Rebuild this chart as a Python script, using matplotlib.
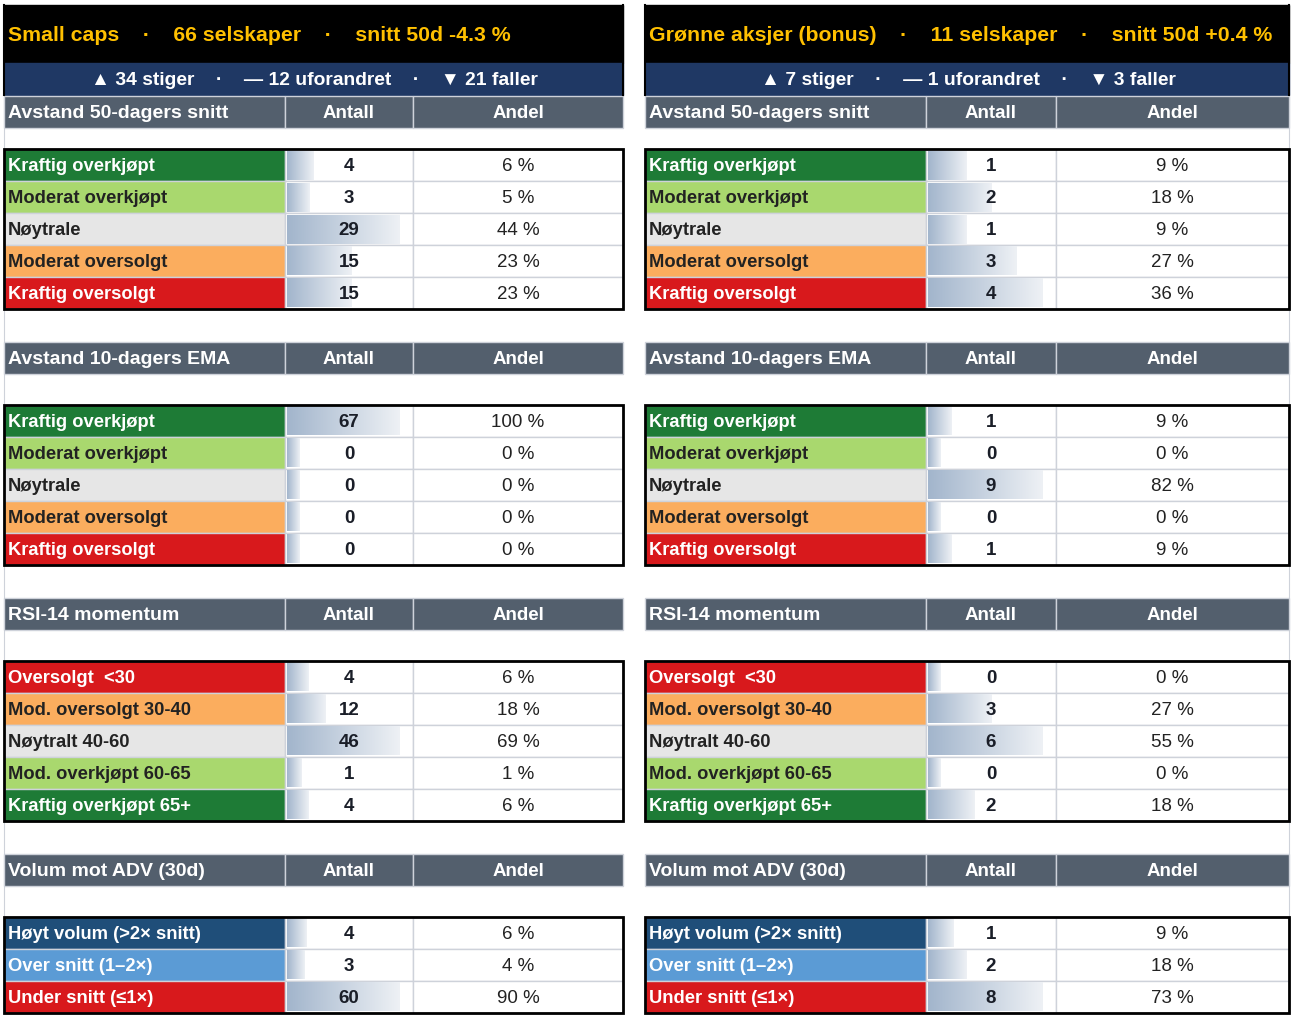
import numpy as np
import matplotlib
matplotlib.use("Agg")
import matplotlib.pyplot as plt
from matplotlib.patches import Rectangle
from matplotlib.colors import LinearSegmentedColormap

plt.rcParams['font.family'] = ['Liberation Sans', 'DejaVu Sans']

# Panel info
panel_names = ["Small caps", "Grønne aksjer (bonus)"]
panel_counts = [66, 11]
panel_avg50 = ["-4.3", "+0.4"]
panel_up = [34, 7]
panel_flat = [12, 1]
panel_down = [21, 3]

# Section titles and row labels
section_titles = ["Avstand 50-dagers snitt", "Avstand 10-dagers EMA", "RSI-14 momentum", "Volum mot ADV (30d)"]
labels_ma = ["Kraftig overkjøpt", "Moderat overkjøpt", "Nøytrale", "Moderat oversolgt", "Kraftig oversolgt"]
labels_rsi = ["Oversolgt  <30", "Mod. oversolgt 30-40", "Nøytralt 40-60", "Mod. overkjøpt 60-65", "Kraftig overkjøpt 65+"]
labels_vol = ["Høyt volum (>2× snitt)", "Over snitt (1–2×)", "Under snitt (≤1×)"]

# Counts and shares, Small caps
small_50 = [4, 3, 29, 15, 15]
small_50_pct = [6, 5, 44, 23, 23]
small_ema = [67, 0, 0, 0, 0]
small_ema_pct = [100, 0, 0, 0, 0]
small_rsi = [4, 12, 46, 1, 4]
small_rsi_pct = [6, 18, 69, 1, 6]
small_vol = [4, 3, 60]
small_vol_pct = [6, 4, 90]

# Counts and shares, Grønne aksjer
green_50 = [1, 2, 1, 3, 4]
green_50_pct = [9, 18, 9, 27, 36]
green_ema = [1, 0, 9, 0, 1]
green_ema_pct = [9, 0, 82, 0, 9]
green_rsi = [0, 3, 6, 0, 2]
green_rsi_pct = [0, 27, 55, 0, 18]
green_vol = [1, 2, 8]
green_vol_pct = [9, 18, 73]

# Colours
DKGREEN = "#1E7B36"
LTGREEN = "#A9D86E"
GRAY = "#E6E6E6"
ORANGE = "#FBAD5E"
RED = "#D8191C"
DKBLUE = "#1F4E79"
LTBLUE = "#5B9BD5"
GOLD = "#FFC000"
NAVY = "#1F3864"
HEADER = "#535F6D"
GRID = "#CED2DA"

colors_ma = [DKGREEN, LTGREEN, GRAY, ORANGE, RED]
colors_rsi = [RED, ORANGE, GRAY, LTGREEN, DKGREEN]
colors_vol = [DKBLUE, LTBLUE, RED]
dark_fills = [DKGREEN, RED, DKBLUE, LTBLUE]

bar_cmap = LinearSegmentedColormap.from_list("databar", ["#A2B5CC", "#EEF1F5"])

# Layout (pixels)
W, H = 1297, 1018
panels_x = [(4, 285, 413, 623), (645, 926, 1056, 1289)]
header_tops = [96, 342, 598, 854]
data_tops = [149, 405, 661, 917]
ROW = 32
DY = 1.5  # small baseline nudge so text sits like the Excel render

fig = plt.figure(figsize=(W / 100, H / 100), dpi=100)
ax = fig.add_axes([0, 0, 1, 1])
ax.set_xlim(0, W)
ax.set_ylim(H, 0)
ax.axis('off')

panel_data = [
    [(small_50, small_50_pct), (small_ema, small_ema_pct), (small_rsi, small_rsi_pct), (small_vol, small_vol_pct)],
    [(green_50, green_50_pct), (green_ema, green_ema_pct), (green_rsi, green_rsi_pct), (green_vol, green_vol_pct)],
]
section_labels = [labels_ma, labels_ma, labels_rsi, labels_vol]
section_colors = [colors_ma, colors_ma, colors_rsi, colors_vol]

gap = "    "

for p, (x0, c1, c2, x1) in enumerate(panels_x):
    # faint outer grid line
    if p == 0:
        ax.plot([x0, x0], [5, 1013], color=GRID, lw=0.8, zorder=0)
    else:
        ax.plot([x1, x1], [5, 1013], color=GRID, lw=0.8, zorder=0)

    # title band
    ax.add_patch(Rectangle((x0, 5), x1 - x0, 58, color="black", zorder=1))
    title = f"{panel_names[p]}{gap}·{gap}{panel_counts[p]} selskaper{gap}·{gap}snitt 50d {panel_avg50[p]} %"
    ax.text(x0 + 4, 34 + DY, title, color=GOLD, fontsize=15.3, fontweight='bold', ha='left', va='center', zorder=3)

    # movers band
    ax.add_patch(Rectangle((x0, 63), x1 - x0, 32, color=NAVY, zorder=1))
    ax.plot([x0, x0], [5, 95], color="black", lw=1.5, zorder=2)
    ax.plot([x1, x1], [5, 95], color="black", lw=1.5, zorder=2)
    movers = f"▲ {panel_up[p]} stiger{gap}·{gap}— {panel_flat[p]} uforandret{gap}·{gap}▼ {panel_down[p]} faller"
    ax.text((x0 + x1) / 2 + 1, 79 + DY, movers, color="white", fontsize=13.9, fontweight='bold',
            ha='center', va='center', zorder=3)

    for s in range(4):
        counts, pcts = panel_data[p][s]
        ht = header_tops[s]
        # header row
        for a, b in [(x0, c1), (c1, c2), (c2, x1)]:
            ax.add_patch(Rectangle((a, ht), b - a, ROW, facecolor=HEADER, edgecolor=GRID, lw=1, zorder=1))
        ax.text(x0 + 4, ht + ROW / 2 + DY, section_titles[s], color="white", fontsize=14, fontweight='bold',
                ha='left', va='center', zorder=3)
        ax.text((c1 + c2) / 2, ht + ROW / 2 + DY, "Antall", color="white", fontsize=13.5, fontweight='bold',
                ha='center', va='center', zorder=3)
        ax.text((c2 + x1) / 2, ht + ROW / 2 + DY, "Andel", color="white", fontsize=13.5, fontweight='bold',
                ha='center', va='center', zorder=3)

        # data rows
        dt = data_tops[s]
        vmax = max(counts)
        cw = c2 - c1 - 3
        for r, (lab, v, pc) in enumerate(zip(section_labels[s], counts, pcts)):
            y = dt + r * ROW
            fill = section_colors[s][r]
            ax.add_patch(Rectangle((x0, y), c1 - x0, ROW, facecolor=fill, edgecolor=GRID, lw=1, zorder=1))
            ax.add_patch(Rectangle((c1, y), c2 - c1, ROW, facecolor="white", edgecolor=GRID, lw=1, zorder=1))
            ax.add_patch(Rectangle((c2, y), x1 - c2, ROW, facecolor="white", edgecolor=GRID, lw=1, zorder=1))
            tcol = "white" if fill in dark_fills else "#222222"
            ax.text(x0 + 4, y + ROW / 2 + DY, lab, color=tcol, fontsize=13.2, fontweight='bold',
                    ha='left', va='center', zorder=3)
            # Excel style data bar
            bw = cw * (0.1 + 0.8 * v / vmax)
            ax.imshow(np.linspace(0, 1, 256).reshape(1, -1), cmap=bar_cmap, aspect='auto',
                      extent=(c1 + 2, c1 + 2 + bw, y + ROW - 1.5, y + 1.5), zorder=2, interpolation='bilinear')
            ax.text((c1 + c2) / 2, y + ROW / 2 + DY, str(v), color="#1A1E28", fontsize=13.5, fontweight='bold',
                    ha='center', va='center', zorder=3)
            ax.text((c2 + x1) / 2, y + ROW / 2 + DY, f"{pc} %", color="#222222", fontsize=13.5,
                    ha='center', va='center', zorder=3)
        # thick outline
        nrows = len(counts)
        ax.add_patch(Rectangle((x0, dt), x1 - x0, nrows * ROW, fill=False, edgecolor="black", lw=2, zorder=4))

ax.set_xlim(0, W)
ax.set_ylim(H, 0)
fig.savefig("out.png", dpi=100, facecolor="white")
